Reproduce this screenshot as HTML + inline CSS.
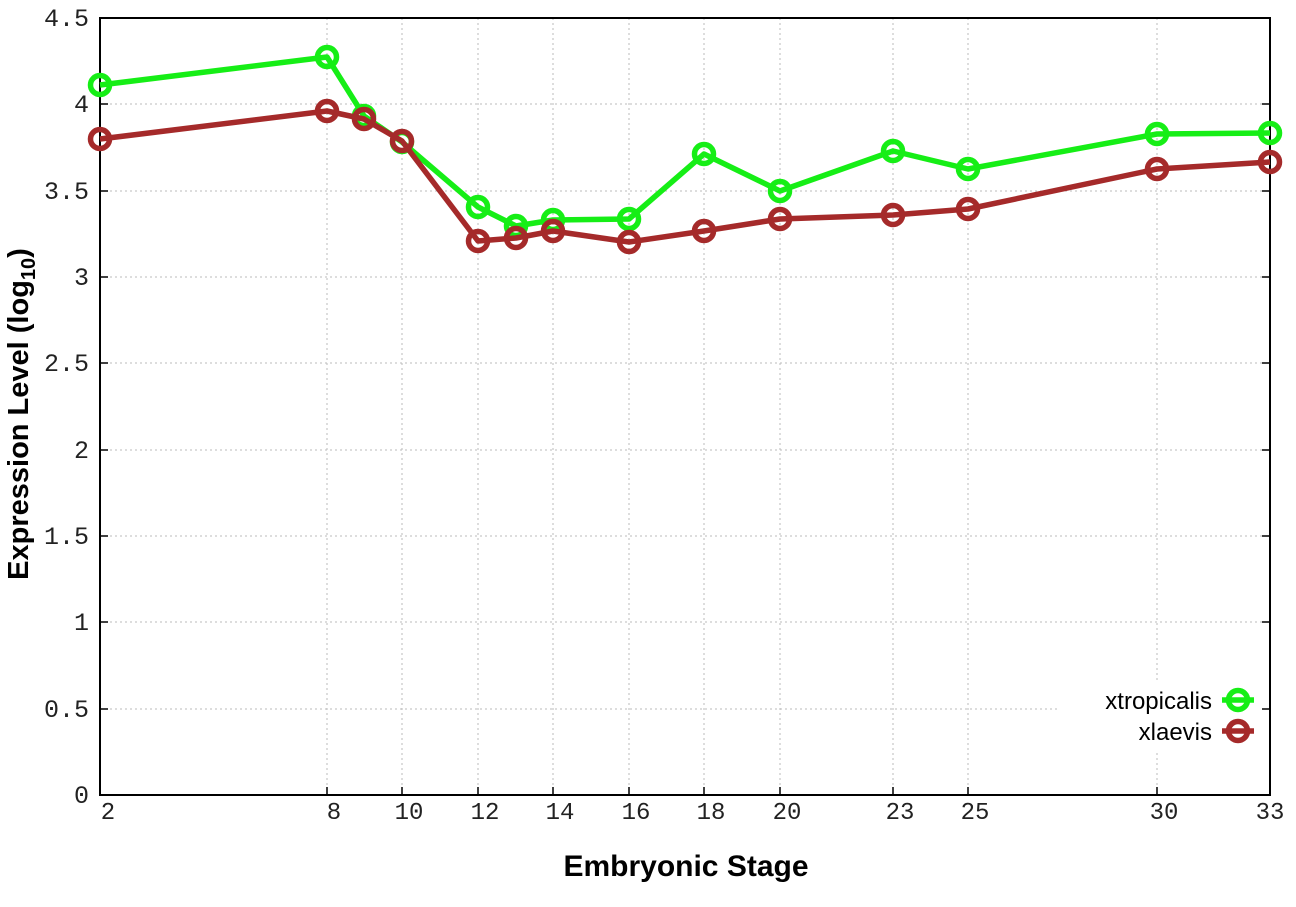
<!DOCTYPE html>
<html><head><meta charset="utf-8"><style>body{margin:0;background:#fff}svg{display:block}</style></head>
<body>
<svg width="1296" height="907" viewBox="0 0 1296 907" xmlns="http://www.w3.org/2000/svg">
<g stroke="#bbb" stroke-width="1" stroke-dasharray="2,3">
<line x1="100" y1="709" x2="1270" y2="709"/><line x1="100" y1="622" x2="1270" y2="622"/>
<line x1="100" y1="536" x2="1270" y2="536"/><line x1="100" y1="450" x2="1270" y2="450"/>
<line x1="100" y1="363" x2="1270" y2="363"/><line x1="100" y1="277" x2="1270" y2="277"/>
<line x1="100" y1="191" x2="1270" y2="191"/><line x1="100" y1="104" x2="1270" y2="104"/>
<line x1="327" y1="18" x2="327" y2="795"/><line x1="402" y1="18" x2="402" y2="795"/>
<line x1="478" y1="18" x2="478" y2="795"/><line x1="553" y1="18" x2="553" y2="795"/>
<line x1="629" y1="18" x2="629" y2="795"/><line x1="704" y1="18" x2="704" y2="795"/>
<line x1="780" y1="18" x2="780" y2="795"/><line x1="893" y1="18" x2="893" y2="795"/>
<line x1="968" y1="18" x2="968" y2="795"/><line x1="1157" y1="18" x2="1157" y2="795"/>
</g>
<rect x="1060" y="680" width="205" height="70" fill="#fff"/>
<rect x="100" y="18" width="1170" height="777" fill="none" stroke="#000" stroke-width="2"/>
<g stroke="#000" stroke-width="1.5">
<line x1="100" y1="709" x2="108" y2="709"/><line x1="100" y1="622" x2="108" y2="622"/><line x1="100" y1="536" x2="108" y2="536"/><line x1="100" y1="450" x2="108" y2="450"/><line x1="100" y1="363" x2="108" y2="363"/><line x1="100" y1="277" x2="108" y2="277"/><line x1="100" y1="191" x2="108" y2="191"/><line x1="100" y1="104" x2="108" y2="104"/>
<line x1="1262" y1="709" x2="1270" y2="709"/><line x1="1262" y1="622" x2="1270" y2="622"/><line x1="1262" y1="536" x2="1270" y2="536"/><line x1="1262" y1="450" x2="1270" y2="450"/><line x1="1262" y1="363" x2="1270" y2="363"/><line x1="1262" y1="277" x2="1270" y2="277"/><line x1="1262" y1="191" x2="1270" y2="191"/><line x1="1262" y1="104" x2="1270" y2="104"/>
<line x1="327" y1="795" x2="327" y2="787"/><line x1="402" y1="795" x2="402" y2="787"/><line x1="478" y1="795" x2="478" y2="787"/><line x1="553" y1="795" x2="553" y2="787"/><line x1="629" y1="795" x2="629" y2="787"/><line x1="704" y1="795" x2="704" y2="787"/><line x1="780" y1="795" x2="780" y2="787"/><line x1="893" y1="795" x2="893" y2="787"/><line x1="968" y1="795" x2="968" y2="787"/><line x1="1157" y1="795" x2="1157" y2="787"/>
</g>
<g font-family="Liberation Mono, monospace" font-size="25" fill="#222" text-anchor="end">
<text x="89" y="803">0</text><text x="89" y="717">0.5</text><text x="89" y="630">1</text><text x="89" y="544">1.5</text><text x="89" y="458">2</text><text x="89" y="371">2.5</text><text x="89" y="285">3</text><text x="89" y="199">3.5</text><text x="89" y="112">4</text><text x="89" y="26">4.5</text>
</g>
<g font-family="Liberation Mono, monospace" font-size="24" fill="#222" text-anchor="middle">
<text x="108" y="819">2</text><text x="334" y="819">8</text><text x="409" y="819">10</text><text x="485" y="819">12</text><text x="560" y="819">14</text><text x="636" y="819">16</text><text x="711" y="819">18</text><text x="787" y="819">20</text><text x="900" y="819">23</text><text x="975" y="819">25</text><text x="1164" y="819">30</text><text x="1270" y="819">33</text>
</g>
<text x="686" y="876" font-family="Liberation Sans, sans-serif" font-size="30" font-weight="bold" text-anchor="middle">Embryonic Stage</text>
<text transform="translate(28,414) rotate(-90)" font-family="Liberation Sans, sans-serif" font-size="29" font-weight="bold" text-anchor="middle">Expression Level (log<tspan font-size="20" dy="7">10</tspan><tspan dy="-7">)</tspan></text>
<g fill="none" stroke-width="5.5" stroke-linejoin="round">
<polyline stroke="#16ee16" points="100,85 327,57 364,116 402,142 478,207 516,226 553,220 629,219 704,154 780,191 893,151 968,169 1157,134 1270,133"/>
<g stroke="#16ee16"><circle cx="100" cy="85" r="9.5"/><circle cx="327" cy="57" r="9.5"/><circle cx="364" cy="116" r="9.5"/><circle cx="402" cy="142" r="9.5"/><circle cx="478" cy="207" r="9.5"/><circle cx="516" cy="226" r="9.5"/><circle cx="553" cy="220" r="9.5"/><circle cx="629" cy="219" r="9.5"/><circle cx="704" cy="154" r="9.5"/><circle cx="780" cy="191" r="9.5"/><circle cx="893" cy="151" r="9.5"/><circle cx="968" cy="169" r="9.5"/><circle cx="1157" cy="134" r="9.5"/><circle cx="1270" cy="133" r="9.5"/></g>
<polyline stroke="#a52a2a" points="100,139 327,111 364,119 402,141 478,241 516,238 553,231 629,242 704,231 780,219 893,215 968,209 1157,169 1270,162"/>
<g stroke="#a52a2a"><circle cx="100" cy="139" r="9.5"/><circle cx="327" cy="111" r="9.5"/><circle cx="364" cy="119" r="9.5"/><circle cx="402" cy="141" r="9.5"/><circle cx="478" cy="241" r="9.5"/><circle cx="516" cy="238" r="9.5"/><circle cx="553" cy="231" r="9.5"/><circle cx="629" cy="242" r="9.5"/><circle cx="704" cy="231" r="9.5"/><circle cx="780" cy="219" r="9.5"/><circle cx="893" cy="215" r="9.5"/><circle cx="968" cy="209" r="9.5"/><circle cx="1157" cy="169" r="9.5"/><circle cx="1270" cy="162" r="9.5"/></g>
<line x1="1222" y1="700" x2="1254" y2="700" stroke="#16ee16"/><circle cx="1238" cy="700" r="9.5" stroke="#16ee16"/>
<line x1="1222" y1="731" x2="1254" y2="731" stroke="#a52a2a"/><circle cx="1238" cy="731" r="9.5" stroke="#a52a2a"/>
</g>
<g font-family="Liberation Sans, sans-serif" font-size="24" fill="#000" text-anchor="end">
<text x="1212" y="709">xtropicalis</text><text x="1212" y="740">xlaevis</text>
</g>
</svg>
</body></html>
